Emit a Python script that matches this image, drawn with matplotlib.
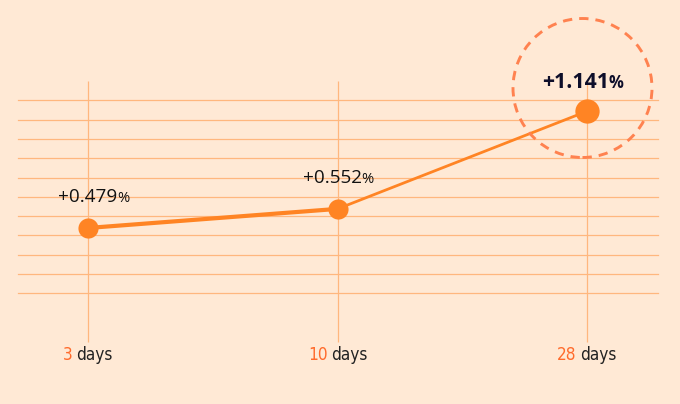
import numpy as np
import matplotlib
matplotlib.use("Agg")
import matplotlib.pyplot as plt
import matplotlib.transforms as mtransforms
from matplotlib.patches import Circle
from matplotlib.offsetbox import TextArea, HPacker, AnnotationBbox

# data
periods = [3, 10, 28]
period_unit = "days"
returns = [0.479, 0.552, 1.141]
return_labels = ["+0.479", "+0.552", "+1.141"]

BG = "#FFE9D5"
GRID = "#FFB77E"
ORANGE = "#FF8424"
TICK_NUM = "#FF6B2C"
CIRCLE = "#FF8250"

fig = plt.figure(figsize=(6.8, 4.04), dpi=100, facecolor=BG)
ax = fig.add_axes([0, 0, 1, 1])
ax.set_facecolor(BG)
ax.set_yscale("log")
ax.set_xlim(-0.3527, 2.3727)
ax.set_ylim(0.1294, 2.609)
ax.axis("off")

x = np.arange(len(periods))

# horizontal rules (layout only, in axes fraction)
for i in range(11):
    yf = 1 - (100.3 + 19.3 * i) / 404
    ax.plot([0.027, 0.967], [yf, yf], transform=ax.transAxes,
            color=GRID, lw=0.9, zorder=1)

# vertical guides at each period
xtrans = mtransforms.blended_transform_factory(ax.transData, ax.transAxes)
ax.vlines(x, 1 - 342 / 404, 1 - 81 / 404, transform=xtrans,
          color=GRID, lw=0.9, zorder=1)

# line segments: first thicker
ax.plot(x[:2], returns[:2], color=ORANGE, lw=3.0, solid_capstyle="round", zorder=3)
ax.plot(x[1:], returns[1:], color=ORANGE, lw=2.0, solid_capstyle="round", zorder=3)

sizes = [14.5, 14.5, 17.5]
for xi, r, s in zip(x, returns, sizes):
    ax.plot(xi, r, "o", ms=s, color=ORANGE, mec="none", zorder=4)

# value labels (offsets in points)
label_offsets = [(4, 22), (0.5, 22), (-3, 20.5)]
for i, (xi, r, lab) in enumerate(zip(x, returns, return_labels)):
    bold = i == len(returns) - 1
    w = "bold" if bold else "normal"
    fs = 15.3 if bold else 13.6
    col = "#0E0E2A" if bold else "#111111"
    num = TextArea(lab, textprops=dict(fontsize=fs, fontweight=w, color=col,
                                       family="Open Sans"))
    pct = TextArea("%", textprops=dict(fontsize=fs * 0.78, fontweight=w, color=col,
                                       family="Open Sans"))
    box = HPacker(children=[num, pct], sep=0, pad=0, align="baseline")
    ab = AnnotationBbox(box, (xi, r), xybox=label_offsets[i], xycoords="data",
                        boxcoords="offset points", frameon=False,
                        box_alignment=(0.5, 0.5), zorder=5)
    ax.add_artist(ab)

# tick labels
tick_font = dict(fontsize=12.3, family="DejaVu Sans", fontstretch="condensed")
for xi, p in zip(x, periods):
    num = TextArea(str(p), textprops=dict(color=TICK_NUM, **tick_font))
    unit = TextArea(period_unit, textprops=dict(color="#222222", **tick_font))
    box = HPacker(children=[num, unit], sep=2.5, pad=0, align="baseline")
    ab = AnnotationBbox(box, (xi, 1 - 355 / 404), xycoords=xtrans,
                        frameon=False, box_alignment=(0.5, 0.5), zorder=5)
    ax.add_artist(ab)

# dashed highlight circle around last point (in inches, so it stays round)
circ = Circle((5.825, (404 - 88) / 100), 0.695, transform=fig.dpi_scale_trans,
              fill=False, ec=CIRCLE, lw=2.1, ls=(0, (3.2, 2.4)), zorder=6)
fig.add_artist(circ)

fig.savefig("out.png", dpi=100, facecolor=BG)
